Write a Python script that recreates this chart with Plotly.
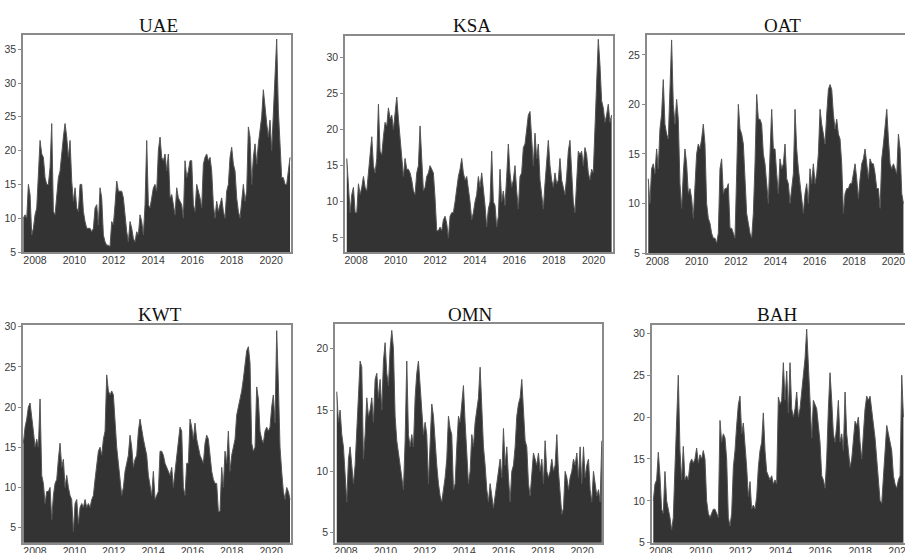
import numpy as np
import plotly.graph_objects as go

# ---------------- data ----------------
titles = ["UAE", "KSA", "OAT", "KWT", "OMN", "BAH"]
year_ticks = [2008, 2010, 2012, 2014, 2016, 2018, 2020]

uae = [10,10.5,10,15,13.5,7.5,8.5,10.5,11.5,17,21.5,19.5,19,16,15,15,17.5,24,11,10.5,
       14,16,17,20,22,24,22,19,21.5,15.5,12.5,14.5,11.5,11,15,15,11,9.5,8.5,8.5,
       8.5,8,8.5,11.5,12,9,14.5,13,7.5,6.5,6,6,5.8,9.5,9,12,15.5,14,14,14,
       13,10,8,6.5,9.5,8.5,7,6.5,8,7.5,10.5,9.5,7.5,12,21.5,12,11.5,13,14.5,15,
       14,20,22,19,18.5,19.5,17,19.5,13,13.5,12,10.5,14.5,13,12.5,12,10,18.5,16,17,
       18.5,18.5,12,11,15,14,13,11.5,18,19,19.5,18.5,19,17,12,10,12.5,11,12,13,
       11,10,14,15,19,20.5,18,17,13,11,10,13,15,12.5,14,23.5,22,15,19,21,
       18,21,23,25,29,26,24,22,24.5,20,26,31,36.5,26,20,16,16,15,15,17,19]

ksa = [16,12.5,8.5,11,12,8.5,8.5,12.5,11,12,13.5,12,11.5,14,17,19,15,14,16,23.5,
       17,16.5,19,21,20.5,23,21.5,22,20,22,24.5,21.5,19,16,13.5,16,14.5,14.5,14,13,
       11.5,11,14,15,20.5,16,11.5,12,13.5,14,15,14.5,14,10.5,6,6,6.5,6,7.5,8,
       7,5,8,8.5,8.5,10,12,13.5,14.5,16,14,13,13.5,12,10,7.5,8.5,10,11,13.5,
       12,14,12,9.5,6.5,9,10,17,10,9.5,6.5,8,14.5,10,11.5,9.5,13.5,18,14,12,
       13,15,11.5,9,13.5,14,17.5,18,20,22,22.5,18.5,15,19.5,16,18,13,11,9,12.5,
       15,18.5,15,13,12,14,12.5,13,16,13,12,11,13.5,17,18.5,15,10,8.5,13,17,
       16.5,17,15,17.5,16.5,14,13,14.5,14,20,24,32.5,29,24,23,21,22,23.5,21,22]

oat = [12.5,10,13.5,14,13,15.5,13.5,17.5,19,22.5,18,17,16.5,22,26.5,20,18,20.5,18.5,12,
       9.5,13,15.5,14,11,11.5,10.5,8.5,12,15,16,15.5,16.5,18,16,10,8.5,8,7,6.5,
       6.5,6,7,13.5,14.5,11,11.5,11.5,12,7.5,7.5,7,6.5,13,20,17.5,17,16,13,9,
       8,7,6.5,9,14,21,18.5,18.5,18,15,14,12,10,15,19.5,15.5,15.5,13,11,14.5,
       13.5,14,16,12.5,12,10,11.5,13,19.5,15.5,13.5,12,10.5,9,11,12,10,13.5,12,14,
       12,13,15,19.5,18,17,16,19,21.5,22,21.5,19,17.5,18.5,17,16.5,14,9,11,11.5,
       11.5,12,12,13,14,12.5,10.5,12.5,14,14.5,15.5,14,12.5,14.5,14,14,13,11.5,11.5,9.5,
       14.5,16,17.5,19.5,16.5,14,13.5,14,13.5,13,17,15.5,11,10]

kwt = [15.5,17.5,18.5,20,20.5,19,17,15,16,15,21,11.5,10.5,8,9.5,9.5,10,6,9,10.5,
       11,13.5,15.5,12.5,13.5,10,11.5,10,9,8.5,4.5,8,8.5,5.5,7.5,8,7.5,8.5,7.5,8,
       7.5,8.5,9,11,12.5,14.5,15,14,16,17,24,22,21.5,22,21.5,18,15,13,11,9,
       10,12,13,14,16.5,15,12.5,13.5,14,17,18.5,17,16,15,14,11.5,10,9,12,8.5,
       9,9.5,14.5,14.5,14,13,12.5,12,11.5,12.5,10,12,14,16,17.5,17,10,9,13,13,
       18.5,17.5,16,18,16,15,14,13.5,13,15.5,16.5,16,14,12,11,10.5,10.5,7,7,12.5,
       10,14.5,13,17,12,14,15,16,19,20,21,22,23.5,25,27,27.5,25.5,15.5,14.5,15,
       22.5,21,17,16,15.5,17,17.5,17,17.5,20,21.5,18,29.5,23,15,12,9.5,8.5,10,9.5,8.5]

omn = [16.5,14,15,13,12,10,7.5,11,12,10.5,9,10.5,13,16,19,18.5,11,13,16,14.5,
       15,16,14,17.5,18,16,17.5,15,19,20.5,18,17,20,21.5,20,14.5,12.5,11.5,10.5,9.5,
       8.5,12.5,19,13,12,13,12,16,18,19,17,15.5,13,14,13,9,12,15.5,14.5,12,
       10.5,9,8,7.5,8.5,9.5,11,14.5,13.5,13,8.5,9,12,14.5,14,15.5,17,14,11,9,
       10,13,12,14,15,16,18.5,15,12,10.5,8.5,7.5,9,8,7,8,9,10,11,9.5,
       13.5,10.5,12,9.5,7.5,10,10.5,12,14.5,15.5,16,17.5,15,12.5,12,9,8,9.5,11.5,11,
       10.5,11.5,10,11,9,12.5,10,9.5,10,11,10,10.5,13,10,8,6.5,7,10,9.5,8.5,
       9.5,10,11,10.5,11.5,9.5,12,9,12,9.5,10.5,11,8.5,7.5,10,9,8,8.5,7.5,12.5]

bah = [10,12,12.5,15.8,13,9,8.5,13.5,10,9,8,6.5,8,14,20,25,16,12.5,16.5,12.5,
       13,12.5,14.5,15,14.5,15,16.3,14.5,15.5,15,16,15,10,8.5,8,8.5,9,9,8.5,8,
       19.6,17,18,17.5,15,8,7,8.5,14,16,19,21.5,22.5,18,19.3,17,14,10.5,12.3,9,
       9.5,9,10.5,14,16,17,20.5,16,13.5,13,12.5,13,12,12.5,12,22.4,21.5,22,26.5,22,
       25.5,20.5,26.5,21,20,21,23,20,21,23,25,27,30.5,27,22,17.5,22,21.5,21,19,
       17,13,12.5,11.5,15,21,25.3,22,18,17,19,22,17,18,16,23,18,16,14,15,
       17,19.5,19,20,17,15,18,21,22.5,22,22.5,21,19,17.5,15,12,10,9.7,13,17,
       19,18,17,16,13,12,11.5,12.5,13,25,20]

series = [uae, ksa, oat, kwt, omn, bah]
# first / last observation of each series (decimal years)
first_obs = [2007.41, 2007.53, 2007.54, 2007.41, 2007.53, 2007.63]
last_obs = [2020.96, 2020.91, 2020.51, 2020.96, 2021.00, 2020.17]

# ---------------- layout (pixels) ----------------
W, H = 905, 553
# x0, x1, y_top, y_bottom of each panel frame
boxes = [(23, 291, 35, 252), (345, 613, 36, 252), (646.7, 905, 35, 253),
         (23, 291, 325, 542.7), (335, 602, 324.3, 542.7), (651.7, 905, 325, 542.7)]
xranges = [(2007.39, 2021.01), (2007.44, 2020.98), (2007.46, 2020.59),
           (2007.39, 2021.01), (2007.44, 2021.01), (2007.55, 2020.25)]
yranges = [(5, 37.1), (3.05, 32.95), (5, 27), (3.13, 30.2), (4.18, 22.0), (5, 31)]
ytick_sets = [[5, 10, 15, 20, 25, 30, 35], [5, 10, 15, 20, 25, 30], [5, 10, 15, 20, 25],
              [5, 10, 15, 20, 25, 30], [5, 10, 15, 20], [5, 10, 15, 20, 25, 30]]
right_visible = [True, True, False, True, True, False]
title_pos = [(158, 25), (472, 25), (782, 25), (160, 314), (470, 314), (777, 314)]

tick_font = dict(family="Liberation Sans Narrow, Arial Narrow, Liberation Sans, Arial",
                 size=10.5, color="#3a3a3a")
frame_color = "#8a8a8a"

fig = go.Figure()
layout = dict(width=W, height=H, margin=dict(l=0, r=0, t=0, b=0),
              paper_bgcolor="white", plot_bgcolor="white", showlegend=False,
              template="none")
annotations = []

for i, vals in enumerate(series):
    k = "" if i == 0 else str(i + 1)
    x = np.linspace(first_obs[i], last_obs[i], len(vals))
    fig.add_trace(go.Scatter(
        x=x, y=vals, mode="lines", fill="tozeroy",
        fillcolor="#333333", line=dict(color="#555555", width=1),
        xaxis="x" + k, yaxis="y" + k, hoverinfo="skip"))
    x0, x1, yt, yb = boxes[i]
    layout["xaxis" + k] = dict(
        domain=[x0 / W, x1 / W], anchor="y" + k, range=list(xranges[i]),
        tickmode="array", tickvals=year_ticks, ticktext=[str(v) for v in year_ticks],
        showline=True, mirror=True, linecolor=frame_color, linewidth=1.5,
        ticks="", showgrid=False, zeroline=False, tickfont=tick_font,
        ticklabeloverflow="allow", ticklabelstandoff=-2,
        automargin=False, fixedrange=True)
    layout["yaxis" + k] = dict(
        domain=[1 - yb / H, 1 - yt / H], anchor="x" + k, range=list(yranges[i]),
        tickmode="array", tickvals=ytick_sets[i], ticktext=[str(v) for v in ytick_sets[i]],
        showline=True, mirror=right_visible[i], linecolor=frame_color, linewidth=1.5,
        ticks="outside", ticklen=3, tickwidth=1, tickcolor=frame_color,
        showgrid=False, zeroline=False, tickfont=tick_font,
        ticklabeloverflow="allow",
        automargin=False, fixedrange=True)
    tx, ty = title_pos[i]
    annotations.append(dict(
        text=titles[i], x=tx / W, y=1 - ty / H, xref="paper", yref="paper",
        xanchor="center", yanchor="middle", showarrow=False,
        font=dict(family="Liberation Serif, DejaVu Serif, serif", size=19, color="#111111")))

layout["annotations"] = annotations
fig.update_layout(**layout)
fig.write_html("out.html", config={"displayModeBar": False},
               post_script="document.body.style.margin='0';document.body.style.overflow='hidden';")
